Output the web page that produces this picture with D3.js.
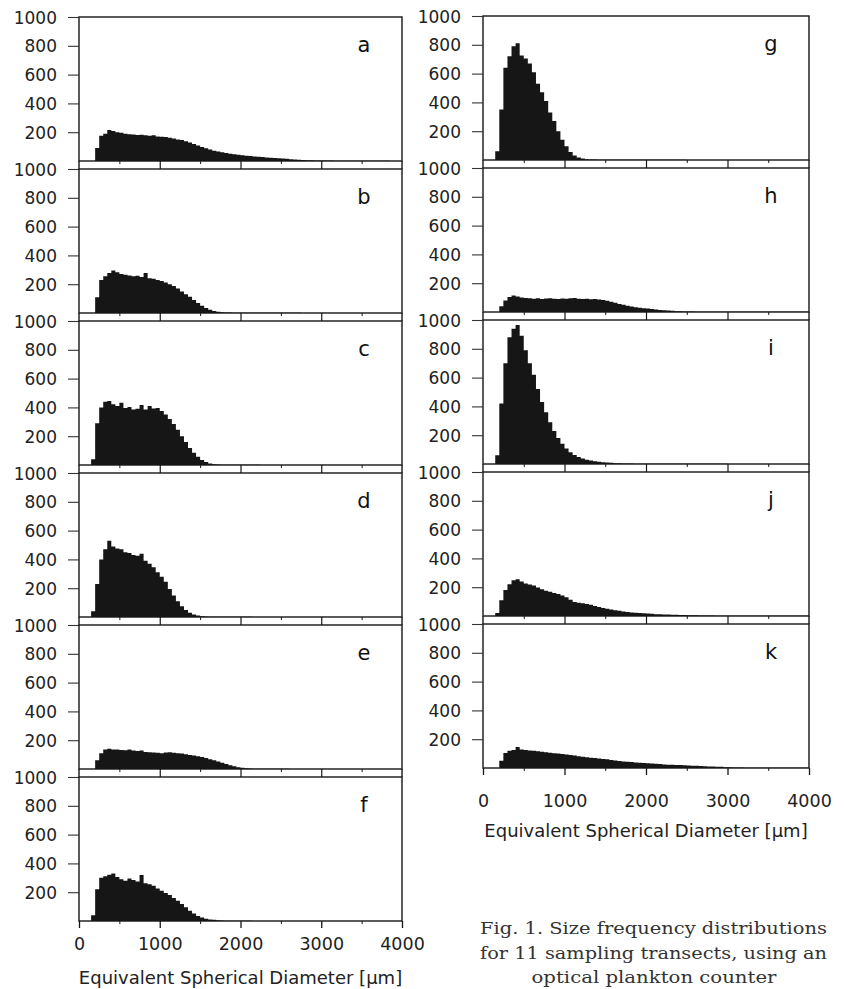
<!DOCTYPE html>
<html><head><meta charset="utf-8">
<script src="https://cdn.jsdelivr.net/npm/d3@7"></script>
<style>body{margin:0;background:#fff} svg{display:block}</style>
</head><body>
<svg id="c" width="846" height="989"></svg>
<script>
// Bin width in µm; each series gives counts for bins starting at 0, 50, 100 ... 3950
const binWidth = 50;
const xMax = 4000;

const seriesA = [
 0,0,0,0,90,175,190,215,208,200,
 196,190,186,184,180,183,178,176,179,171,
 168,166,161,156,150,146,138,128,118,108,
 98,88,79,72,66,60,55,51,47,44,
 40,37,34,31,29,27,25,23,21,19,
 17,15,13,11,9,7,6,5,4,4,
 3,3,3,2,2,2,2,2,1,1,
 1,1,1,1,1,1,1,0,0,0];
const seriesB = [
 0,0,0,0,110,230,255,278,295,283,
 270,266,260,255,258,250,278,242,238,230,
 222,212,200,188,170,150,130,112,90,70,
 50,35,22,14,9,6,4,3,2,2,
 1,1,1,1,1,1,1,1,1,1,
 1,1,1,1,1,0,0,0,0,0,
 0,0,0,0,0,0,0,0,0,0,
 0,0,0,0,0,0,0,0,0,0];
const seriesC = [
 0,0,0,40,290,400,440,445,422,410,
 432,395,402,386,390,416,386,410,392,396,
 375,350,320,285,245,200,160,118,85,58,
 35,20,10,5,3,2,2,1,1,1,
 1,1,1,1,1,0,0,0,0,0,
 0,0,0,0,0,0,0,0,0,0,
 0,0,0,0,0,0,0,0,0,0,
 0,0,0,0,0,0,0,0,0,0];
const seriesD = [
 0,0,0,40,230,400,470,530,490,476,
 470,450,445,430,425,440,390,370,345,310,
 280,245,195,150,110,75,48,30,18,10,
 6,3,2,2,1,1,1,1,1,1,
 1,1,1,0,0,0,0,0,0,0,
 0,0,0,0,0,0,0,0,0,0,
 0,0,0,0,0,0,0,0,0,0,
 0,0,0,0,0,0,0,0,0,0];
const seriesE = [
 0,0,0,0,60,110,135,140,136,135,
 132,130,135,128,125,128,118,116,115,112,
 110,115,117,113,110,108,102,98,93,88,
 83,77,68,60,52,43,34,26,19,13,
 8,5,3,2,2,1,1,1,1,1,
 1,1,0,0,0,0,0,0,0,0,
 0,0,0,0,0,0,0,0,0,0,
 0,0,0,0,0,0,0,0,0,0];
const seriesF = [
 0,0,0,40,220,300,310,322,330,305,
 290,280,295,285,275,320,262,255,245,225,
 210,195,180,160,140,118,95,72,52,35,
 24,16,11,8,5,3,2,2,1,1,
 1,1,1,0,0,0,0,0,0,0,
 0,0,0,0,0,0,0,0,0,0,
 0,0,0,0,0,0,0,0,0,0,
 0,0,0,0,0,0,0,0,0,0];
const seriesG = [
 0,0,0,60,350,640,720,790,810,725,
 705,670,610,530,470,410,330,270,200,140,
 95,55,32,18,10,6,4,3,2,2,
 2,1,1,1,1,1,1,1,1,1,
 1,1,1,1,1,1,1,1,1,1,
 0,0,0,0,0,0,0,0,0,0,
 0,0,0,0,0,0,0,0,0,0,
 0,0,0,0,0,0,0,0,0,0];
const seriesH = [
 0,0,0,0,40,80,105,115,108,100,
 98,95,92,95,90,93,95,92,90,94,
 92,95,97,92,90,92,88,90,86,83,
 78,72,64,56,50,44,38,33,29,26,
 24,20,17,14,12,10,8,6,5,4,
 3,3,2,2,2,2,2,1,1,1,
 1,1,1,1,1,1,1,1,1,1,
 1,1,1,1,1,1,1,1,1,1];
const seriesI = [
 0,0,0,60,420,700,880,940,965,890,
 790,700,620,520,430,360,290,230,180,140,
 108,82,62,48,38,30,24,19,16,13,
 10,8,6,5,4,3,3,2,2,2,
 1,1,1,1,1,1,1,1,1,1,
 1,1,1,1,1,1,1,1,1,1,
 0,0,0,0,0,0,0,0,0,0,
 0,0,0,0,0,0,0,0,0,0];
const seriesJ = [
 0,0,0,20,110,180,220,248,255,240,
 225,218,212,198,185,176,168,160,152,142,
 130,112,98,92,88,84,78,70,63,56,
 50,45,40,36,32,28,25,23,21,19,
 17,15,13,12,11,10,9,8,7,7,
 6,5,5,4,4,3,3,2,2,2,
 2,2,1,1,1,1,1,1,1,1,
 1,1,1,1,1,1,1,1,1,1];
const seriesK = [
 0,0,0,0,50,105,120,125,145,128,
 125,122,120,116,113,110,106,103,100,97,
 94,90,86,82,78,75,72,69,66,63,
 60,56,52,49,46,43,41,39,37,35,
 33,31,29,27,25,23,22,21,20,19,
 17,16,15,14,12,11,10,9,8,6,
 5,4,3,3,2,2,2,2,1,1,
 1,1,1,1,1,1,1,1,1,1];

const leftLetters = ["a","b","c","d","e","f"];
const rightLetters = ["g","h","i","j","k"];
const yTicks = [200,400,600,800,1000];
const xMajorTicks = [0,1000,2000,3000,4000];
const xInnerTicks = [1000,2000,3000];
const xMinorTicks = [500,1500,2500,3500];
const axisTitle = "Equivalent Spherical Diameter [µm]";
const captionLines = ["Fig. 1. Size frequency distributions",
                      "for 11 sampling transects, using an",
                      "optical plankton counter"];

// ---------- layout ----------
const PH = 144, GAP = 8, STRIDE = PH + GAP;
const ink = "#161616";
const fmt = d3.format("d");
const cols = [
  {x0:79, x1:402, top:17, series:[seriesA,seriesB,seriesC,seriesD,seriesE,seriesF], letters:leftLetters, labDy:29, titleDy:63},
  {x0:483, x1:809, top:16, series:[seriesG,seriesH,seriesI,seriesJ,seriesK], letters:rightLetters, labDy:39, titleDy:69}
];

const svg = d3.select("#c");

cols.forEach(col => {
  const x = d3.scaleLinear().domain([0, xMax]).range([col.x0, col.x1]);
  const n = col.series.length;
  col.series.forEach((vals, i) => {
    const top = col.top + i * STRIDE;
    const base = top + PH;
    const y = d3.scaleLinear().domain([0, 1000]).range([base, top]);
    const g = svg.append("g");

    const pts = vals.map((v, k) => ({x: k * binWidth, v}));
    pts.push({x: xMax, v: vals[vals.length - 1]});
    const area = d3.area().curve(d3.curveStepAfter)
      .x(d => x(d.x)).y0(y(0)).y1(d => y(d.v));
    g.append("path").datum(pts).attr("d", area).attr("fill", ink).attr("stroke", "none");

    // frame
    g.append("rect").attr("x", col.x0).attr("y", top)
      .attr("width", col.x1 - col.x0).attr("height", PH)
      .attr("fill", "none").attr("stroke", ink).attr("stroke-width", 1.4);

    // y axis
    const ya = g.append("g").attr("transform", `translate(${col.x0},0)`)
      .call(d3.axisLeft(y).tickValues(yTicks).tickFormat(fmt).tickSize(11).tickSizeOuter(0).tickPadding(11));
    ya.select(".domain").remove();
    ya.selectAll("line").attr("stroke", "#333").attr("stroke-width", 1.1);
    ya.selectAll("text").attr("font-family", "DejaVu Sans").attr("font-size", 17)
      .attr("fill", "#222").attr("dy", "0.36em");

    const last = i === n - 1;
    if (!last) {
      const xa = g.append("g").attr("transform", `translate(0,${base})`)
        .call(d3.axisBottom(x).tickValues(xInnerTicks).tickSize(GAP).tickSizeOuter(0).tickFormat(""));
      xa.select(".domain").remove();
      xa.selectAll("line").attr("stroke", ink).attr("stroke-width", 1.2);
      g.append("line").attr("x1", col.x0).attr("x2", col.x0).attr("y1", base).attr("y2", base + GAP)
        .attr("stroke", ink).attr("stroke-width", 1.4);
      g.append("line").attr("x1", col.x1).attr("x2", col.x1).attr("y1", base).attr("y2", base + GAP)
        .attr("stroke", ink).attr("stroke-width", 1.4);
    } else {
      const xa = g.append("g").attr("transform", `translate(0,${base})`)
        .call(d3.axisBottom(x).tickValues(xMajorTicks).tickFormat(fmt).tickSize(7).tickSizeOuter(0));
      xa.select(".domain").remove();
      xa.selectAll("line").attr("stroke", ink).attr("stroke-width", 1.3);
      xa.selectAll("text").attr("font-family", "DejaVu Sans").attr("font-size", 17.5)
        .attr("fill", "#222").attr("y", col.labDy).attr("dy", 0);
      g.append("text").attr("x", (col.x0 + col.x1) / 2).attr("y", base + col.titleDy)
        .attr("text-anchor", "middle").attr("font-family", "DejaVu Sans").attr("font-size", 18)
        .attr("fill", "#222").text(axisTitle);
    }
    const xm = g.append("g").attr("transform", `translate(0,${base})`)
      .call(d3.axisBottom(x).tickValues(xMinorTicks).tickSize(3).tickSizeOuter(0).tickFormat(""));
    xm.select(".domain").remove();
    xm.selectAll("line").attr("stroke", ink).attr("stroke-width", 1);

    // panel letter
    g.append("text").attr("x", col.x1 - 38).attr("y", top + 35)
      .attr("text-anchor", "middle").attr("font-family", "DejaVu Sans").attr("font-size", 21)
      .attr("fill", "#111").text(col.letters[i]);
  });
});

// caption
const cap = svg.append("g").attr("font-family", "DejaVu Serif").attr("font-size", 17).attr("fill", "#333");
cap.append("text").attr("x", 480).attr("y", 934).attr("textLength", 347).attr("lengthAdjust", "spacingAndGlyphs").text(captionLines[0]);
cap.append("text").attr("x", 480).attr("y", 959).attr("textLength", 347).attr("lengthAdjust", "spacingAndGlyphs").text(captionLines[1]);
cap.append("text").attr("x", 654).attr("y", 983).attr("text-anchor", "middle").attr("textLength", 245).attr("lengthAdjust", "spacingAndGlyphs").text(captionLines[2]);
</script>
</body></html>
